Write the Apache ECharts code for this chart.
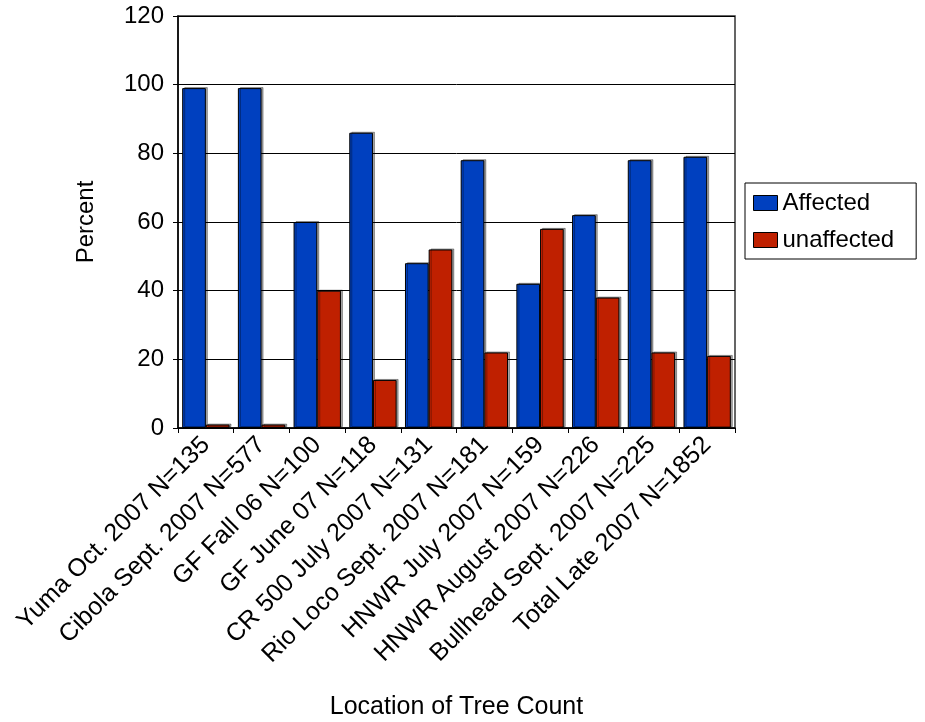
<!DOCTYPE html>
<html>
<head>
<meta charset="utf-8">
<script src="https://cdn.jsdelivr.net/npm/echarts@6/dist/echarts.min.js"></script>
<style>html,body{margin:0;padding:0;background:#fff}#c{width:925px;height:722px}</style>
</head>
<body>
<div id="c"></div>
<script>
const categories = ["Yuma Oct. 2007 N=135","Cibola Sept. 2007 N=577","GF Fall 06 N=100","GF June 07 N=118","CR 500 July 2007 N=131","Rio Loco Sept. 2007 N=181","HNWR July 2007 N=159","HNWR August 2007 N=226","Bullhead Sept. 2007 N=225","Total Late 2007 N=1852"];
const affected = [99, 99, 60, 86, 48, 78, 42, 62, 78, 79];
const unaffected = [1, 1, 40, 14, 52, 22, 58, 38, 22, 21];
const yTicks = [0, 20, 40, 60, 80, 100, 120];

const chart = echarts.init(document.getElementById('c'));
const font = 'Liberation Sans, Arial, sans-serif';
const barStyle = (c) => ({color: c, borderColor: '#000', borderWidth: 1, shadowColor: 'rgba(0,0,0,0.35)', shadowOffsetX: 2, shadowOffsetY: -1, shadowBlur: 0});
chart.setOption({
  animation: false,
  backgroundColor: '#fff',
  textStyle: {fontFamily: font, color: '#000'},
  grid: {left: 178, right: 190, top: 16, bottom: 294, containLabel: false, outerBoundsMode: 'none', show: true, borderColor: '#333', borderWidth: 1.5},
  legend: {
    orient: 'vertical', left: 745, top: 183,
    borderColor: '#000', borderWidth: 1, padding: [8, 22, 7, 8],
    itemWidth: 24, itemHeight: 15, itemGap: 13, icon: 'rect',
    textStyle: {fontSize: 24, fontFamily: font, color: '#000'},
    itemStyle: {borderColor: '#000', borderWidth: 1},
    data: ['Affected', 'unaffected']
  },
  xAxis: {
    type: 'category', data: categories,
    name: 'Location of Tree Count', nameLocation: 'middle', nameGap: 267,
    nameTextStyle: {fontSize: 25, fontFamily: font, color: '#000'},
    axisLine: {lineStyle: {color: '#000', width: 1.5}},
    axisTick: {show: true, length: 5, lineStyle: {color: '#000'}},
    axisLabel: {rotate: 45, fontSize: 25, fontFamily: font, color: '#000', interval: 0, margin: 13}
  },
  yAxis: {
    type: 'value', min: 0, max: 120, interval: 20,
    name: 'Percent', nameLocation: 'middle', nameGap: 80,
    nameTextStyle: {fontSize: 24, fontFamily: font, color: '#000'},
    axisLine: {show: true, lineStyle: {color: '#000', width: 1.5}},
    axisTick: {show: true, length: 5, lineStyle: {color: '#000'}},
    axisLabel: {fontSize: 24, fontFamily: font, color: '#000', margin: 14,
      formatter: v => yTicks.includes(v) ? String(v) : ''},
    splitLine: {show: true, lineStyle: {color: '#000', width: 1}}
  },
  series: [
    {name: 'Affected', type: 'bar', data: affected, barGap: '0%', barCategoryGap: '15%', itemStyle: barStyle('#0040BF')},
    {name: 'unaffected', type: 'bar', data: unaffected, barGap: '0%', barCategoryGap: '15%', itemStyle: barStyle('#BF2000')}
  ]
});
</script>
</body>
</html>
